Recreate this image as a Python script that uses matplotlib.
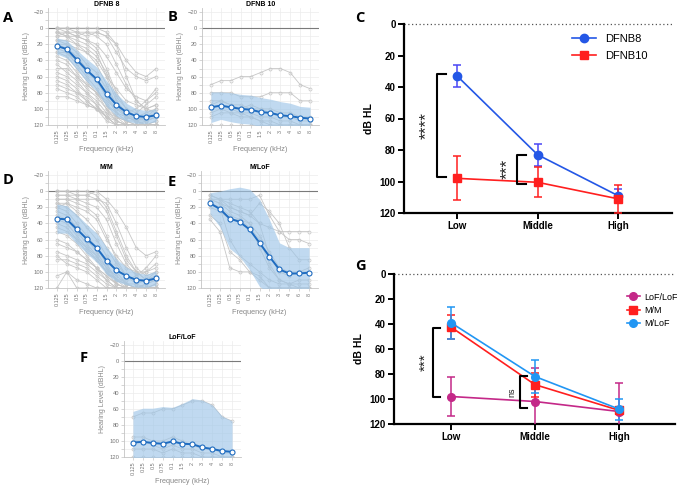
import matplotlib
matplotlib.use("Agg")
import matplotlib.pyplot as plt
from matplotlib.lines import Line2D
import numpy as np

plt.rcParams['font.family'] = ['Liberation Sans', 'DejaVu Sans']

W, H = 677, 488

# ---- audiogram data ----
freq_labels = ['0.125', '0.25', '0.5', '0.75', '0.1', '1.5', '2', '3', '4', '6', '8']

dfnb8_mean = [22, 26, 39, 52, 63, 81, 95, 104, 109, 110, 108]
dfnb8_sd = [10, 11, 12, 14, 15, 16, 14, 11, 9, 8, 8]
dfnb8_ind = [
    [0, 0, 5, 5, 10, 20, 45, 70, 90, 100, 105],
    [5, 5, 10, 15, 25, 50, 80, 100, 110, 115, 110],
    [10, 10, 15, 20, 30, 60, 90, 105, 115, 120, 120],
    [15, 20, 30, 45, 55, 75, 95, 110, 115, 115, 110],
    [20, 25, 35, 50, 65, 85, 105, 115, 120, 120, 115],
    [25, 30, 45, 60, 75, 95, 110, 120, 120, 120, 120],
    [30, 35, 50, 65, 80, 100, 115, 120, 120, 115, 110],
    [40, 45, 60, 75, 85, 100, 110, 115, 120, 120, 120],
    [55, 60, 70, 80, 90, 105, 115, 120, 120, 120, 120],
    [70, 75, 80, 85, 95, 110, 120, 120, 120, 120, 120],
    [85, 85, 90, 95, 100, 110, 115, 120, 120, 120, 120],
    [0, 5, 5, 10, 5, 10, 20, 40, 55, 60, 50],
    [5, 10, 10, 5, 5, 10, 30, 50, 60, 65, 60],
    [10, 5, 10, 15, 20, 35, 55, 75, 85, 90, 80],
    [20, 20, 25, 30, 40, 60, 75, 90, 95, 100, 95],
    [35, 40, 55, 70, 80, 95, 105, 110, 110, 105, 100],
    [45, 55, 65, 80, 95, 110, 120, 120, 120, 120, 120],
    [60, 65, 75, 90, 100, 115, 120, 120, 120, 120, 120],
    [75, 80, 85, 95, 100, 105, 110, 115, 115, 110, 105],
    [5, 10, 20, 30, 45, 70, 95, 110, 115, 110, 100],
    [15, 15, 20, 25, 35, 55, 85, 100, 105, 95, 85],
    [30, 30, 40, 55, 65, 85, 100, 105, 100, 90, 75],
    [50, 50, 60, 70, 80, 90, 100, 110, 115, 120, 115],
    [65, 70, 80, 90, 100, 110, 120, 120, 120, 120, 120],
    [0, 0, 0, 0, 0, 5, 20, 60, 90, 100, 95],
]

dfnb10_mean = [98, 96, 98, 100, 101, 104, 105, 108, 109, 111, 112]
dfnb10_sd = [19, 17, 18, 18, 18, 18, 17, 17, 16, 14, 14]
dfnb10_ind = [
    [70, 65, 65, 60, 60, 55, 50, 50, 55, 70, 75],
    [80, 80, 80, 85, 85, 85, 80, 80, 80, 90, 90],
    [90, 90, 95, 95, 100, 100, 100, 105, 105, 110, 110],
    [100, 95, 100, 105, 105, 110, 110, 115, 115, 120, 120],
    [105, 100, 105, 105, 110, 115, 115, 120, 120, 120, 120],
    [120, 120, 120, 120, 120, 120, 120, 120, 120, 120, 120],
    [95, 90, 95, 100, 95, 100, 105, 110, 110, 115, 115],
    [110, 105, 105, 110, 110, 115, 120, 120, 120, 120, 120],
]

mm_aud_mean = [34, 35, 47, 59, 70, 86, 98, 105, 110, 111, 108]
mm_aud_sd = [18, 17, 18, 18, 18, 17, 14, 11, 9, 8, 9]
mm_aud_ind = [
    [0, 0, 5, 5, 10, 15, 40, 70, 95, 105, 100],
    [5, 5, 10, 10, 10, 25, 55, 85, 100, 110, 105],
    [10, 10, 15, 20, 30, 55, 85, 105, 115, 120, 115],
    [15, 20, 30, 45, 60, 80, 100, 115, 120, 120, 120],
    [20, 25, 40, 55, 70, 90, 110, 120, 120, 120, 115],
    [25, 30, 45, 60, 75, 95, 110, 115, 120, 115, 110],
    [30, 35, 50, 65, 80, 100, 115, 120, 120, 120, 120],
    [40, 45, 60, 75, 85, 100, 110, 115, 115, 110, 100],
    [65, 70, 75, 85, 95, 105, 115, 120, 120, 120, 120],
    [75, 80, 85, 90, 100, 110, 120, 120, 120, 120, 120],
    [85, 85, 90, 95, 105, 115, 120, 120, 120, 120, 120],
    [105, 100, 110, 115, 120, 120, 120, 120, 120, 120, 120],
    [120, 100, 120, 120, 120, 120, 120, 120, 120, 120, 120],
    [5, 5, 5, 5, 0, 10, 25, 45, 70, 80, 75],
    [10, 10, 10, 15, 20, 35, 65, 90, 105, 95, 80],
    [20, 15, 20, 25, 35, 60, 80, 95, 100, 100, 95],
    [35, 40, 55, 70, 85, 100, 110, 110, 105, 100, 90],
    [50, 55, 65, 80, 95, 110, 120, 120, 120, 120, 120],
    [0, 0, 0, 0, 5, 20, 50, 80, 100, 110, 110],
    [15, 15, 25, 35, 50, 70, 90, 105, 110, 110, 105],
    [45, 50, 60, 70, 80, 95, 105, 115, 120, 115, 110],
    [60, 65, 75, 85, 95, 105, 115, 120, 120, 120, 120],
    [80, 90, 95, 100, 110, 120, 120, 120, 120, 120, 120],
]

mlof_aud_mean = [15, 22, 34, 38, 47.5, 64, 81, 97, 102, 102, 101]
mlof_aud_sd = [13, 22, 37, 43, 50, 54, 46, 33, 32, 32, 31]
mlof_aud_ind = [
    [5, 10, 10, 10, 10, 5, 30, 50, 60, 60, 65],
    [10, 15, 20, 25, 30, 40, 45, 50, 50, 50, 50],
    [15, 20, 30, 35, 40, 55, 75, 95, 100, 100, 100],
    [30, 40, 75, 85, 100, 110, 120, 120, 120, 120, 120],
    [35, 50, 95, 100, 100, 105, 120, 120, 120, 120, 120],
    [10, 15, 25, 30, 40, 70, 95, 110, 115, 115, 115],
    [20, 25, 35, 35, 45, 60, 90, 110, 115, 120, 120],
    [5, 10, 15, 20, 25, 40, 80, 100, 105, 100, 95],
    [15, 20, 60, 80, 90, 100, 110, 115, 115, 110, 110],
    [10, 10, 20, 25, 30, 15, 25, 40, 70, 85, 85],
]

loflof_aud_mean = [102, 101, 102.5, 103.5, 100.5, 103.5, 104, 108, 110, 112.5, 113.5]
loflof_aud_sd = [39, 42, 43.5, 46.5, 42.5, 50.5, 57, 59, 55, 43.5, 38.5]
loflof_aud_ind = [
    [70, 65, 65, 60, 60, 55, 50, 50, 55, 70, 75],
    [95, 95, 100, 100, 95, 100, 105, 110, 110, 115, 115],
    [100, 100, 105, 110, 105, 110, 110, 115, 115, 120, 120],
    [110, 110, 110, 115, 110, 115, 115, 120, 120, 120, 120],
    [120, 120, 120, 120, 120, 120, 120, 120, 120, 120, 120],
]

# ---- summary panels ----
ranges = ['Low', 'Middle', 'High']

c_dfnb8 = [33, 83, 109]
c_dfnb8_lo = [26, 76, 105]
c_dfnb8_hi = [40, 90, 112]
c_dfnb10 = [98, 100.5, 111]
c_dfnb10_lo = [84, 91, 102]
c_dfnb10_hi = [112, 110, 120]

g_loflof = [98, 102, 110]
g_loflof_lo = [82.5, 75.5, 87.5]
g_loflof_hi = [113.5, 128, 132]
g_mm = [42.5, 88.5, 109]
g_mm_lo = [32.5, 79, 106]
g_mm_hi = [52, 98, 112]
g_mlof = [39, 82, 108]
g_mlof_lo = [26, 69, 100]
g_mlof_hi = [52, 95.5, 117]


def box(left, top, width, height):
    return [left / W, 1 - (top + height) / H, width / W, height / H]


fig = plt.figure(figsize=(W / 100, H / 100), dpi=100)


def audiogram(pos, title, ind, mean, sd):
    ax = fig.add_axes(box(*pos))
    x = np.arange(len(freq_labels))
    m = np.array(mean, float)
    s = np.array(sd, float)
    for tr in ind:
        ax.plot(x, tr, color='#c6c6c6', lw=0.6, marker='o', ms=2.2,
                mfc='none', mec='#c6c6c6', mew=0.5, zorder=2)
    ax.fill_between(x, m - s, m + s, color='#9fc6e8', alpha=0.65, lw=0, zorder=3)
    ax.plot(x, m, color='#1f6cc0', lw=1.4, marker='o', ms=3.6, mfc='white',
            mec='#1f6cc0', mew=0.8, zorder=4)
    ax.axhline(0, color='#7a7a7a', lw=0.8, zorder=1)
    ax.set_xlim(-0.9, 10.9)
    ax.set_ylim(120, -25)
    ax.set_yticks(range(-20, 121, 20))
    ax.set_yticks(range(-20, 121, 10), minor=True)
    ax.set_xticks(x)
    ax.set_xticklabels(freq_labels, rotation=90)
    ax.grid(True, which='both', color='#ececec', lw=0.5, zorder=0)
    ax.set_axisbelow(True)
    for sp in ['top', 'right']:
        ax.spines[sp].set_visible(False)
    for sp in ['left', 'bottom']:
        ax.spines[sp].set_color('#c4c4c4')
        ax.spines[sp].set_linewidth(0.6)
    ax.tick_params(which='both', colors='#c4c4c4', labelcolor='#777777',
                   labelsize=4.2, length=2, width=0.5, pad=1.5)
    ax.tick_params(axis='x', labelsize=3.9)
    ax.set_title(title, fontsize=5, fontweight='bold', pad=1)
    ax.set_ylabel('Hearing Level (dBHL)', fontsize=5, color='#888888', labelpad=2)
    ax.set_xlabel('Frequency (kHz)', fontsize=5.3, color='#888888', labelpad=2)
    return ax


audiogram((48, 8, 117, 117), 'DFNB 8', dfnb8_ind, dfnb8_mean, dfnb8_sd)
audiogram((202, 8, 117, 117), 'DFNB 10', dfnb10_ind, dfnb10_mean, dfnb10_sd)
audiogram((48, 171, 117, 117), 'M/M', mm_aud_ind, mm_aud_mean, mm_aud_sd)
audiogram((201, 171, 117, 117), 'M/LoF', mlof_aud_ind, mlof_aud_mean, mlof_aud_sd)
audiogram((124, 341, 117, 116), 'LoF/LoF', loflof_aud_ind, loflof_aud_mean, loflof_aud_sd)


def summary_axes(pos):
    ax = fig.add_axes(box(*pos))
    ax.set_ylim(120, 0)
    ax.set_yticks(range(0, 121, 20))
    ax.set_xticks(range(len(ranges)))
    ax.set_xticklabels(ranges)
    for sp in ['top', 'right']:
        ax.spines[sp].set_visible(False)
    for sp in ['left', 'bottom']:
        ax.spines[sp].set_linewidth(1.6)
    ax.tick_params(labelsize=7, width=1.4, length=4, pad=2)
    for lab in ax.get_xticklabels() + ax.get_yticklabels():
        lab.set_fontweight('bold')
    ax.axhline(0, color='#555555', lw=0.9, ls=(0, (1, 2)), clip_on=False)
    ax.set_ylabel('dB HL', fontsize=7.5, fontweight='bold', labelpad=4)
    return ax


def series(ax, mean, lo, hi, color, marker, ecolor=None, ms=6):
    x = np.arange(len(mean))
    m = np.array(mean, float)
    err = [m - np.array(lo), np.array(hi) - m]
    ax.errorbar(x, m, yerr=err, color=color, ecolor=ecolor or color, lw=1.2,
                elinewidth=1.1, capsize=3, capthick=1.1, marker=marker, ms=ms,
                zorder=3)
    return Line2D([], [], color=color, lw=1.2, marker=marker, ms=ms)


def bracket(ax, x0, x1, y0, y1, text, tx, rot, fs):
    ax.plot([x1, x0, x0, x1], [y0, y0, y1, y1], color='black', lw=1.5,
            clip_on=False, zorder=4)
    ax.text(tx, (y0 + y1) / 2, text, rotation=rot, ha='center', va='center',
            fontsize=fs, clip_on=False, color='#222222')


# panel C
axc = summary_axes((404, 24, 268, 189))
axc.set_xlim(-0.66, 2.67)
h8 = series(axc, c_dfnb8, c_dfnb8_lo, c_dfnb8_hi, '#2457e6', 'o', ecolor='#4a46f5')
h10 = series(axc, c_dfnb10, c_dfnb10_lo, c_dfnb10_hi, '#ff1f1f', 's')
bracket(axc, -0.25, -0.14, 32, 97, '****', -0.38, 90, 12.5)
bracket(axc, 0.745, 0.857, 83, 101.5, '***', 0.62, 90, 12.5)
axc.legend([h8, h10], ['DFNB8', 'DFNB10'], loc='upper left',
           bbox_to_anchor=(0.61, 0.97), frameon=False, fontsize=8,
           handlelength=2.2, borderaxespad=0, labelspacing=0.6)

# panel G
axg = summary_axes((394, 274, 281, 150))
axg.set_xlim(-0.68, 2.67)
hl = series(axg, g_loflof, g_loflof_lo, g_loflof_hi, '#c42888', 'o', ms=5.5)
hm = series(axg, g_mm, g_mm_lo, g_mm_hi, '#ff1f1f', 's', ms=5.5)
hml = series(axg, g_mlof, g_mlof_lo, g_mlof_hi, '#2196f3', 'o', ms=5.5)
bracket(axg, -0.22, -0.13, 43.5, 98, '***', -0.30, 90, 11)
bracket(axg, 0.82, 0.9, 81.6, 107.5, 'ns', 0.72, 90, 6.5)
axg.legend([hl, hm, hml], ['LoF/LoF', 'M/M', 'M/LoF'], loc='upper left',
           bbox_to_anchor=(0.815, 0.9), frameon=False, fontsize=6.5,
           handlelength=1.5, borderaxespad=0, labelspacing=0.45,
           handletextpad=0.4)

# panel letters (x, baseline y in pixels)
for letter, (px, py) in {'A': (3, 22), 'B': (168, 21), 'C': (355, 22),
                         'D': (3, 184), 'E': (168, 186), 'F': (80, 362),
                         'G': (355, 270)}.items():
    fig.text(px / W, 1 - py / H, letter, fontsize=10.5, fontweight='bold',
             ha='left', va='baseline', family=['Open Sans', 'DejaVu Sans'])

fig.savefig('out.png', dpi=100)
